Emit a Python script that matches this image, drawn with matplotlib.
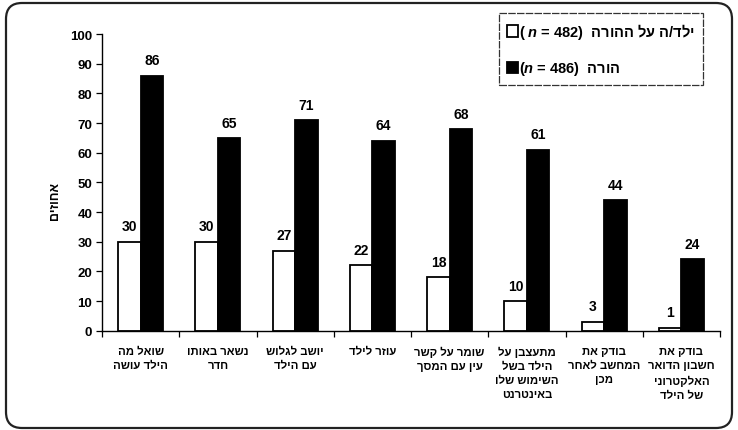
import matplotlib
matplotlib.use("Agg")
import matplotlib.pyplot as plt
import matplotlib.patches as mpatches
import matplotlib.transforms as mtransforms
import numpy as np

plt.rcParams['font.family'] = ['Liberation Sans', 'DejaVu Sans']
plt.rcParams['mathtext.fontset'] = 'custom'
plt.rcParams['mathtext.it'] = 'Liberation Sans:italic:bold'
plt.rcParams['mathtext.rm'] = 'Liberation Sans:bold'

# ---- data ----
categories = [
    "שואל מה\nהילד עושה",
    "נשאר באותו\nחדר",
    "יושב לגלוש\nעם הילד",
    "עוזר לילד",
    "שומר על קשר\nעין עם המסך",
    "מתעצבן על\nהילד בשל\nהשימוש שלו\nבאינטרנט",
    "בודק את\nהמחשב לאחר\nמכן",
    "בודק את\nחשבון הדואר\nהאלקטרוני\nשל הילד",
]
child_values = [30, 30, 27, 22, 18, 10, 3, 1]
parent_values = [86, 65, 71, 64, 68, 61, 44, 24]
child_name = "ילד/ה על ההורה"
child_n = 482
parent_name = "הורה"
parent_n = 486
y_label = "אחוזים"
y_ticks = list(range(0, 101, 10))


def vis(s):
    """Hebrew logical order -> visual order, line by line."""
    return "\n".join(line[::-1] for line in s.split("\n"))


fig = plt.figure(figsize=(7.38, 4.31), dpi=100)
ax = fig.add_axes([102 / 738, 1 - 331.7 / 431, (720 - 102) / 738, (331.7 - 35) / 431])

x = np.arange(len(categories))
w = 0.29
b1 = ax.bar(x - w / 2, child_values, w, color='white', edgecolor='black', linewidth=1.3)
b2 = ax.bar(x + w / 2, parent_values, w, color='black', edgecolor='black', linewidth=1.3)

for rects, vals in ((b1, child_values), (b2, parent_values)):
    for r, v in zip(rects, vals):
        ax.annotate(str(v), (r.get_x() + r.get_width() / 2, v), xytext=(0, 6),
                    textcoords='offset points', ha='center', va='bottom',
                    fontsize=10, fontweight='bold')

ax.set_xlim(-0.5, len(categories) - 0.5)
ax.set_ylim(0, 100)
ax.set_yticks(y_ticks)
ax.set_yticklabels([str(t) for t in y_ticks], fontsize=9.5, fontweight='bold')
ax.tick_params(axis='y', length=4, width=0.9, pad=3, direction='out')

ax.set_xticks(x)
ax.set_xticklabels([vis(c) for c in categories], fontsize=8.2, fontweight='bold',
                   linespacing=1.5, va='top', ha='center')
ax.tick_params(axis='x', which='major', length=0, pad=11)
ax.set_xticks(np.arange(-0.5, len(categories)), minor=True)
ax.tick_params(axis='x', which='minor', length=4, width=0.9, direction='out')

for s in ('top', 'right'):
    ax.spines[s].set_visible(False)
ax.spines['left'].set_linewidth(1.0)
ax.spines['bottom'].set_linewidth(1.0)

fig.text(55 / 738, 1 - 201 / 431, vis(y_label), rotation=90, ha='center', va='center',
         fontsize=9, fontweight='bold')

h1 = mpatches.Patch(facecolor='white', edgecolor='black', linewidth=1.3)
h2 = mpatches.Patch(facecolor='black', edgecolor='black', linewidth=1.3)
lab1 = "( $n$ = %d)  " % child_n + vis(child_name)
lab2 = "($n$ = %d)  " % parent_n + vis(parent_name)
leg = fig.legend([h1, h2], [lab1, lab2], loc='upper right',
                 bbox_to_anchor=(703 / 738, 1 - 14 / 431), frameon=True, fancybox=False,
                 edgecolor='black', prop={'size': 10.5, 'weight': 'bold'},
                 handlelength=0.8, handleheight=0.8, handletextpad=0.05,
                 labelspacing=1.25, borderpad=0.55, borderaxespad=0)
leg.get_frame().set_linewidth(0.9)
leg.get_frame().set_linestyle((0, (6, 1)))

border = mpatches.FancyBboxPatch((6, 2), 726, 425,
                                 boxstyle="round,pad=0,rounding_size=16",
                                 transform=mtransforms.IdentityTransform(),
                                 fill=False, edgecolor='#222222', linewidth=1.6)
fig.add_artist(border)

fig.savefig("out.png", dpi=100)
